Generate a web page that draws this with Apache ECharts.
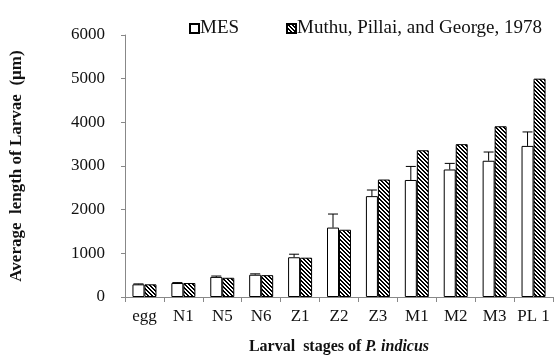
<!DOCTYPE html>
<html><head><meta charset="utf-8">
<script src="https://cdn.jsdelivr.net/npm/echarts@6/dist/echarts.min.js"></script>
<style>html,body{margin:0;padding:0;background:#fff}#c{width:558px;height:360px}</style>
</head><body><div id="c"></div>
<script>
const categories = ['egg','N1','N5','N6','Z1','Z2','Z3','M1','M2','M3','PL 1'];
const mesValues = [290, 320, 460, 510, 910, 1590, 2310, 2680, 2920, 3120, 3460];
const mesErrors = [10, 10, 20, 20, 70, 310, 140, 310, 140, 200, 320];
const muthuValues = [290, 320, 440, 500, 900, 1540, 2690, 3360, 3500, 3910, 5000];
const yTicks = [0, 1000, 2000, 3000, 4000, 5000, 6000];

function hatch() {
  const c = document.createElement('canvas');
  c.width = 4; c.height = 4;
  const ctx = c.getContext('2d');
  const img = ctx.createImageData(4, 4);
  for (let y = 0; y < 4; y++) for (let x = 0; x < 4; x++) {
    const k = ((x - y) % 4 + 4) % 4;
    const v = (k === 0 || k === 1) ? 0 : 255;
    const i = (y * 4 + x) * 4;
    img.data[i] = v; img.data[i+1] = v; img.data[i+2] = v; img.data[i+3] = 255;
  }
  ctx.putImageData(img, 0, 0);
  return c;
}

const BW = 12;
const serif = 'Liberation Serif';
const legendBase = {
  top: 14, icon: 'rect', itemWidth: 9, itemHeight: 9,
  textStyle: {fontFamily: serif, fontSize: 19, color: '#111', padding: [0,0,0,-4]}
};
const chart = echarts.init(document.getElementById('c'), null, {renderer: 'canvas'});
chart.setOption({
  animation: false,
  backgroundColor: '#fff',
  legend: [
    Object.assign({}, legendBase, {data: ['MES'], left: 184}),
    Object.assign({}, legendBase, {data: ['Muthu, Pillai, and George, 1978'], left: 281})
  ],
  grid: {left: 120.7, right: 5, top: 35, bottom: 59.3, containLabel: false},
  xAxis: {
    type: 'category', data: categories,
    axisLine: {lineStyle: {color: '#888'}},
    axisTick: {show: true, alignWithLabel: false, length: 5, lineStyle: {color: '#888'}},
    axisLabel: {interval: 0, fontFamily: serif, fontSize: 17, color: '#111', margin: 11},
    name: '{b|Larval  stages of }{bi|P. indicus}',
    nameLocation: 'middle', nameGap: 42,
    nameTextStyle: {rich: {
      b: {fontFamily: serif, fontWeight: 'bold', fontSize: 16, color: '#111'},
      bi: {fontFamily: serif, fontWeight: 'bold', fontStyle: 'italic', fontSize: 16, color: '#111'}
    }}
  },
  yAxis: {
    type: 'value', min: yTicks[0], max: yTicks[yTicks.length-1], interval: 1000,
    axisLine: {show: true, lineStyle: {color: '#888'}},
    axisTick: {show: true, length: 4, lineStyle: {color: '#888'}},
    splitLine: {show: false},
    axisLabel: {fontFamily: serif, fontSize: 17, color: '#111', margin: 20, formatter: v => String(v)},
    name: 'Average  length of Larvae  (µm)',
    nameLocation: 'middle', nameGap: 100,
    nameTextStyle: {fontFamily: serif, fontWeight: 'bold', fontSize: 17, color: '#111', padding: [0, 0, 0, 0]}
  },
  series: [
    {name: 'MES', type: 'bar', data: mesValues, barWidth: BW, barGap: '0%',
     itemStyle: {color: '#fff', borderColor: '#000', borderWidth: 1}},
    {name: 'Muthu, Pillai, and George, 1978', type: 'bar', data: muthuValues, barWidth: BW, barGap: '0%',
     itemStyle: {color: {image: hatch(), repeat: 'repeat'}, borderColor: '#000', borderWidth: 1}},
    {name: 'err', type: 'custom', z: 5,
     data: mesValues.map((v, i) => [i, v, mesErrors[i]]),
     renderItem: function (params, api) {
       const i = api.value(0), v = api.value(1), e = api.value(2);
       const base = api.coord([i, v]);
       const top = api.coord([i, v + e]);
       const x = base[0] - BW / 2;
       const hw = 5;
       return {type: 'group', children: [
         {type: 'line', shape: {x1: x, y1: base[1], x2: x, y2: top[1]}, style: {stroke: '#000', lineWidth: 1}},
         {type: 'line', shape: {x1: x - hw, y1: top[1], x2: x + hw, y2: top[1]}, style: {stroke: '#000', lineWidth: 1}}
       ]};
     }}
  ]
});
</script></body></html>
